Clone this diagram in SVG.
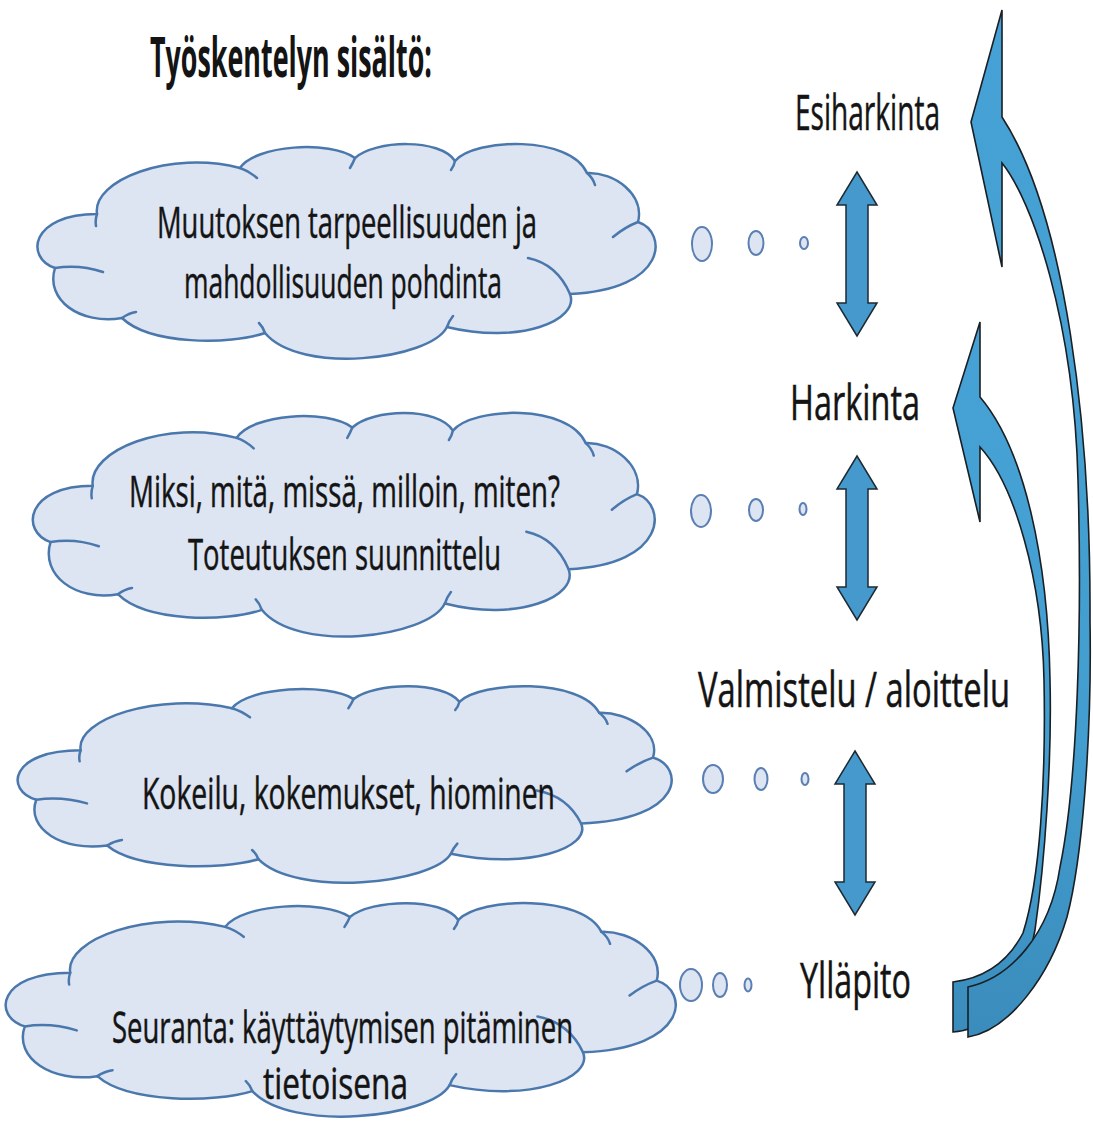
<svg xmlns="http://www.w3.org/2000/svg" xmlns:xlink="http://www.w3.org/1999/xlink" width="1093" height="1124" viewBox="0 0 1093 1124">
<defs>
<style>
.cl{fill:#dde4f2;stroke:#4a78ad;stroke-width:2.5;vector-effect:non-scaling-stroke;stroke-linejoin:round}
.in{fill:none;stroke:#4a78ad;stroke-width:2.5;vector-effect:non-scaling-stroke;stroke-linecap:round}
.bub{fill:#dde4f2;stroke:#5a7fb3;stroke-width:2}
.t{font-family:"Open Sans","Noto Sans",sans-serif;fill:#141414;stroke:#141414;stroke-width:0.5;font-size:44px}
.lab{font-family:"Open Sans","Noto Sans",sans-serif;fill:#141414;stroke:#141414;stroke-width:0.5;font-size:49px}
.ttl{font-family:"Open Sans","Noto Sans",sans-serif;fill:#141414;font-size:56px;font-weight:bold}
.dbl{fill:#4699cc;stroke:#1e2a33;stroke-width:1.5;stroke-linejoin:miter}
.crv{fill:url(#blueGrad);stroke:#1a1f24;stroke-width:1.6;stroke-linejoin:miter}
</style>
<linearGradient id="blueGrad" x1="0" y1="0" x2="0" y2="1">
<stop offset="0" stop-color="#46a2d6"/>
<stop offset="0.7" stop-color="#439ecf"/>
<stop offset="1" stop-color="#3a8cbc"/>
</linearGradient>
<g id="cloudShape">
<path class="cl" d="M60,67 C55,33 133,3 203,21 C218,-2 293,-7 318,11 C338,-7 403,-9 418,14 C438,-9 533,-12 550,26 C578,25 608,48 601,75 C631,85 631,143 533,147 C543,173 483,198 410,180 C393,213 263,228 228,186 C193,198 113,198 85,171 C43,178 8,153 18,121 C-12,111 -7,67 60,67 Z"/>
<path class="in" d="M203,21 Q212,24 220,31 M318,11 Q316,16 313,21 M418,14 Q417,19 414,23 M550,26 Q556,31 558,38 M601,75 Q588,80 576,90 M491,111 Q520,117 533,147 M410,180 Q412,174 416,169 M228,186 Q226,180 222,176 M18,121 Q42,117 66,125 M85,171 Q92,166 99,165 M60,67 Q58,73 59,79"/>
</g>
<path id="dbl" d="M0,0 L20,33 L11,33 L11,131 L20,131 L0,164 L-20,131 L-11,131 L-11,33 L-20,33 Z"/>
</defs>
<rect width="1093" height="1124" fill="#ffffff"/>

<g id="title">
<text class="ttl" x="150" y="77" textLength="282" lengthAdjust="spacingAndGlyphs">Työskentelyn sisältö:</text>
</g>

<g id="cloud1">
<use xlink:href="#cloudShape" transform="translate(37,147)"/>
<text class="t" x="157" y="238" textLength="380" lengthAdjust="spacingAndGlyphs">Muutoksen tarpeellisuuden ja</text>
<text class="t" x="184" y="298" textLength="318" lengthAdjust="spacingAndGlyphs">mahdollisuuden pohdinta</text>
<ellipse class="bub" cx="702" cy="244" rx="10" ry="17"/>
<ellipse class="bub" cx="756" cy="243" rx="7.5" ry="12"/>
<ellipse class="bub" cx="804" cy="243" rx="4" ry="6"/>
</g>

<g id="cloud2">
<use xlink:href="#cloudShape" transform="translate(32.4,416) scale(1.006,1.042)"/>
<text class="t" x="129" y="507" textLength="431" lengthAdjust="spacingAndGlyphs">Miksi, mitä, missä, milloin, miten?</text>
<text class="t" x="188" y="570" textLength="313" lengthAdjust="spacingAndGlyphs">Toteutuksen suunnittelu</text>
<ellipse class="bub" cx="701" cy="511" rx="10" ry="16"/>
<ellipse class="bub" cx="756" cy="510" rx="7" ry="11"/>
<ellipse class="bub" cx="803" cy="509" rx="3.5" ry="6"/>
</g>

<g id="cloud3">
<use xlink:href="#cloudShape" transform="translate(17.2,689) scale(1.058,0.915)"/>
<text class="t" x="142" y="809" textLength="413" lengthAdjust="spacingAndGlyphs">Kokeilu, kokemukset, hiominen</text>
<ellipse class="bub" cx="713" cy="779" rx="10" ry="14"/>
<ellipse class="bub" cx="761" cy="779" rx="6.5" ry="11"/>
<ellipse class="bub" cx="805" cy="779" rx="3.5" ry="6"/>
</g>

<g id="cloud4">
<use xlink:href="#cloudShape" transform="translate(5.2,906) scale(1.084,0.995)"/>
<text class="t" x="112" y="1043" textLength="461" lengthAdjust="spacingAndGlyphs">Seuranta: käyttäytymisen pitäminen</text>
<text class="t" x="263" y="1099" textLength="145" lengthAdjust="spacingAndGlyphs">tietoisena</text>
<ellipse class="bub" cx="691" cy="985" rx="11" ry="16"/>
<ellipse class="bub" cx="720" cy="985" rx="7" ry="12"/>
<ellipse class="bub" cx="748" cy="985" rx="3.5" ry="6.5"/>
</g>

<g id="stage-esiharkinta"><text class="lab" x="795" y="130" textLength="145" lengthAdjust="spacingAndGlyphs">Esiharkinta</text></g>
<g id="stage-harkinta"><text class="lab" x="790" y="420" textLength="130" lengthAdjust="spacingAndGlyphs">Harkinta</text></g>
<g id="stage-valmistelu"><text class="lab" x="0" y="0" transform="translate(698,707) scale(1,1.5)" style="font-size:33px;stroke-width:0.35" textLength="312" lengthAdjust="spacingAndGlyphs">Valmistelu / aloittelu</text></g>
<g id="stage-yllapito"><text class="lab" x="800" y="998" textLength="111" lengthAdjust="spacingAndGlyphs">Ylläpito</text></g>

<g id="connectors">
<use xlink:href="#dbl" class="dbl" transform="translate(857,172)"/>
<use xlink:href="#dbl" class="dbl" transform="translate(857,456)"/>
<use xlink:href="#dbl" class="dbl" transform="translate(855,751)"/>
<path class="crv" d="M980,322 L953,408 L980,522 L980,447 C1015,485 1042,580 1044,680 C1046,780 1040,880 1023,933 C1008,962 985,978 953,982 L953,1032 C990,1030 1025,990 1035,930 C1045,860 1052,760 1050,680 C1048,560 1025,450 980,397 Z"/>
<path class="crv" d="M1002,10 L971,122 L1002,267 L1002,163 C1032,200 1074,320 1078,480 C1082,620 1078,780 1060,867 C1050,935 1010,978 968,987 L968,1037 C1010,1030 1050,975 1067,917 C1082,860 1092,740 1090,620 C1091,430 1066,215 1002,117 Z"/>
</g>
</svg>
